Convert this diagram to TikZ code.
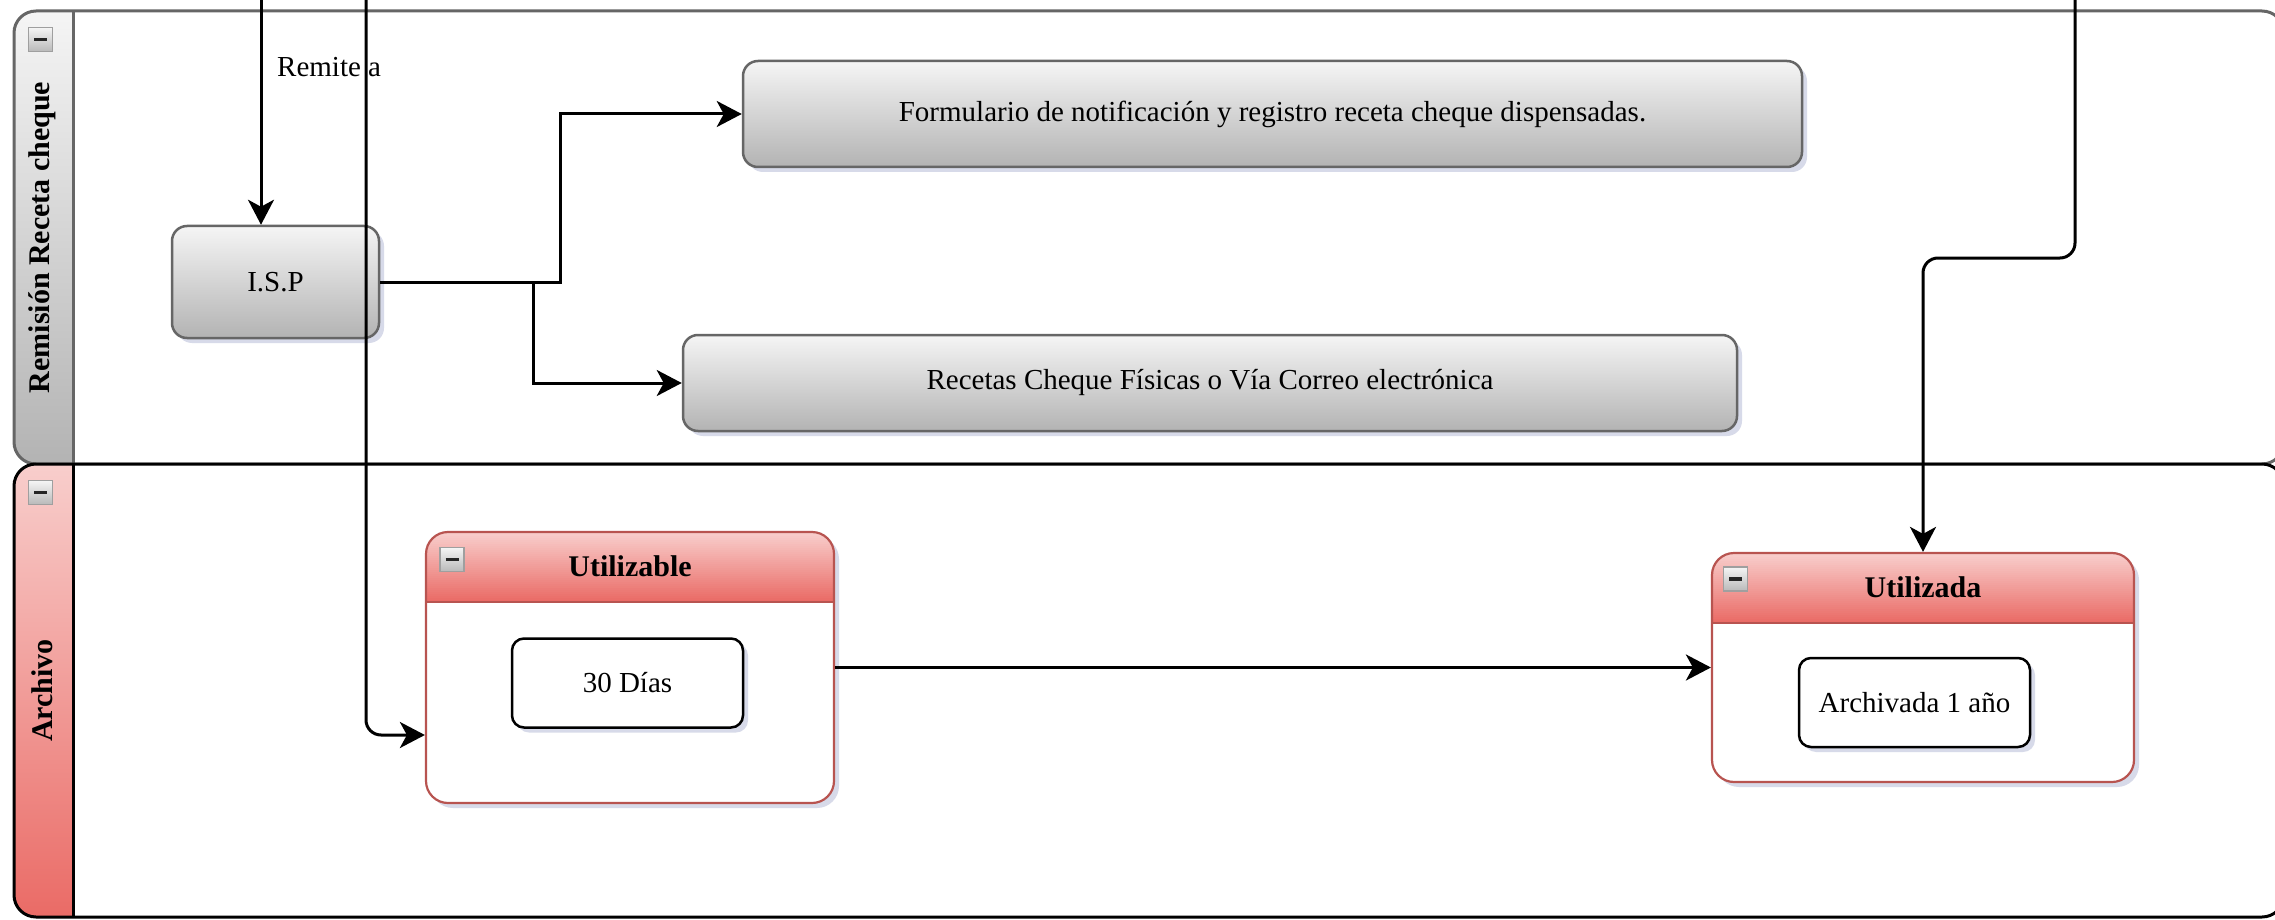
\documentclass[tikz,border=0pt]{standalone}
\usepackage{fontspec}
\setmainfont{Liberation Serif}
\usetikzlibrary{arrows.meta,shadows,calc}
\definecolor{grayTop}{HTML}{F5F5F5}
\definecolor{grayBot}{HTML}{B3B3B3}
\definecolor{grayStroke}{HTML}{666666}
\definecolor{redTop}{HTML}{F8CECC}
\definecolor{redBot}{HTML}{EA6B66}
\definecolor{redStroke}{HTML}{B85450}
\definecolor{shadowCol}{HTML}{9CA3C8}
\tikzset{
  txt/.style={font=\fontsize{29}{34}\selectfont},
  btxt/.style={font=\fontsize{30}{35}\selectfont\bfseries},
  shd/.style={drop shadow={shadow xshift=5pt, shadow yshift=-5pt, fill=shadowCol, opacity=0.4}},
  graybox/.style={shape=rectangle, rounded corners=15pt, draw=grayStroke, line width=2.5pt,
    top color=grayTop, bottom color=grayBot, shd, txt, inner sep=0pt},
  whitebox/.style={shape=rectangle, rounded corners=12pt, draw=black, line width=2.5pt, fill=white,
    shd, txt, inner sep=0pt, minimum width=231pt, minimum height=89pt},
  container/.style={shape=rectangle, rounded corners=22pt, draw=redStroke, line width=2.2pt, fill=white,
    shd, inner sep=0pt,
    path picture={%
      \foreach \k in {0,...,34}{%
        \pgfmathsetmacro\pc{\k*100/34}%
        \pgfmathsetmacro\ya{-2*\k}%
        \pgfmathsetmacro\yb{-2*\k-2.4}%
        \fill[sharp corners, redBot!\pc!redTop] ([yshift=\ya pt]path picture bounding box.north west) rectangle ([yshift=\yb pt]path picture bounding box.north east);
      }%
      \draw[sharp corners, redStroke, line width=2.2pt] ([yshift=-70pt]path picture bounding box.north west) -- ([yshift=-70pt]path picture bounding box.north east);}},
  lane/.style n args={3}{shape=rectangle, rounded corners=22pt, line width=3pt, draw=#1, fill=white,
    inner sep=0pt, minimum width=2270pt, minimum height=453pt,
    path picture={\shade[sharp corners, top color=#2, bottom color=#3] (path picture bounding box.north west) rectangle ([xshift=59pt]path picture bounding box.south west);
      \draw[sharp corners, #1, line width=3pt] ([xshift=59pt]path picture bounding box.north west) -- ([xshift=59pt]path picture bounding box.south west);}},
  conn/.style={draw=black, line width=3pt, -{Stealth[length=25pt, width=26pt, inset=7pt]}},
  icon/.style={shape=rectangle, draw=gray!75, line width=1.5pt, top color=gray!8, bottom color=gray!55,
    minimum size=24pt, inner sep=0pt,
    path picture={\draw[black!85, line width=3.5pt] ([xshift=-6.5pt]path picture bounding box.center) -- ([xshift=6.5pt]path picture bounding box.center);}},
}
\begin{document}
\begin{tikzpicture}[x=1pt,y=-1pt]
\useasboundingbox (0,0) rectangle (2275,920);

% lanes
\node[lane={grayStroke}{grayTop}{grayBot}] (lane1) at (1149,237.5) {};
\node[lane={black}{redTop}{redBot}] (lane2) at (1149,690.5) {};
\node[btxt, rotate=90] (lane1t) at ([xshift=29.5pt]lane1.west) {Remisión Receta cheque};
\node[btxt, rotate=90] (lane2t) at ([xshift=29.5pt]lane2.west) {Archivo};
\node[icon] (ic1) at (40.5,39.5) {};
\node[icon] (ic2) at (40.5,492.5) {};

% top coordinates of incoming lines
\coordinate (t1) at (261,0);
\coordinate (t2) at (366,0);
\coordinate (t3) at (2075,0);

% process nodes
\node[graybox, minimum width=207pt, minimum height=112pt] (isp) at (275.5,282) {I.S.P};
\node[graybox, minimum width=1059pt, minimum height=106pt] (form) at (1272.5,114) {Formulario de notificación y registro receta cheque dispensadas.};
\node[graybox, minimum width=1054pt, minimum height=96pt] (rec) at (1210,383) {Recetas Cheque Físicas o Vía Correo electrónica};

% containers
\node[container, minimum width=408pt, minimum height=271pt] (utz) at (630,667.5) {};
\node[btxt] (utzt) at ([yshift=-35pt]utz.north) {Utilizable};
\node[icon] (ic3) at (452,559.5) {};
\node[whitebox] (dias) at (627.5,683) {30 Días};

\node[container, minimum width=422pt, minimum height=229pt] (utd) at (1923,667.5) {};
\node[btxt] (utdt) at ([yshift=-35pt]utd.north) {Utilizada};
\node[icon] (ic4) at (1735.5,579) {};
\node[whitebox] (arch) at (1914.5,702.5) {Archivada 1 año};

% connectors
\draw[conn] (t1) -- (t1 |- isp.north);
\node[txt, anchor=base west, inner sep=0pt] (lbl) at (277,77) {Remite a};
\draw[conn, rounded corners=15pt] (t2) |- (utz.west |- 0,735);
\draw[conn] (isp.east) -- ++(180,0) |- (form.west);
\draw[conn] (isp.east) -- ++(153,0) |- (rec.west);
\draw[conn, rounded corners=15pt] (t3) -- ++(0,258) -| (utd.north);
\draw[conn] (utz.east) -- (utd.west);
\end{tikzpicture}
\end{document}
